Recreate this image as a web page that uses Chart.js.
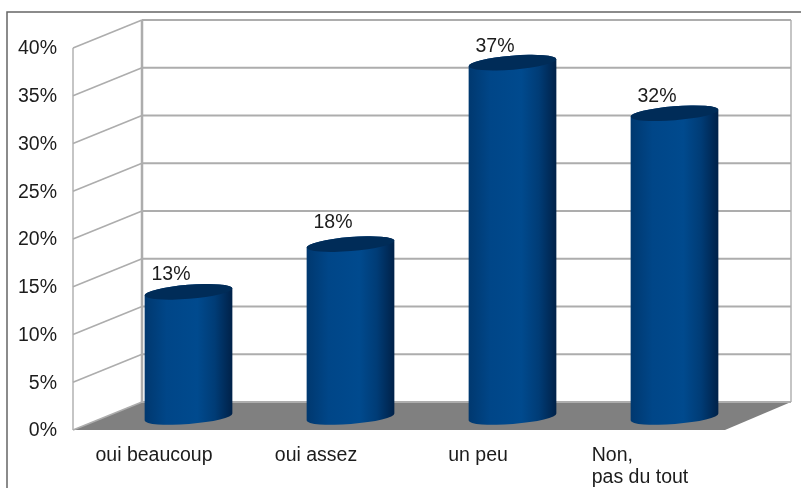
<!DOCTYPE html>
<html lang="fr">
<head>
<meta charset="UTF-8">
<title>Graphique</title>
<style>
  html, body { margin: 0; padding: 0; background: #fff; }
  canvas { display: block; }
</style>
</head>
<body>
<canvas id="myChart" width="801" height="488"></canvas>
<script src="https://cdn.jsdelivr.net/npm/chart.js@4/dist/chart.umd.min.js"></script>
<script>
var categories = [["oui beaucoup"], ["oui assez"], ["un peu"], ["Non,", "pas du tout"]];
var percentValues = [13, 18, 37, 31.7];
var yTickStep = 5;
var yMax = 40;

var FONT = '"Liberation Sans", Arial, sans-serif';
var FONT_SIZE = 19.5;
var TEXT = '#1c1c1c';
// 3d offset of the back wall from the front of the box
var DEPTH_X = 69, DEPTH_Y = 28;
// the value labels do not sit at one fixed distance above the bars
var labelLift = [17, 21, 16.5, 16.5];

var wallsPlugin = {
    id: 'walls',
    beforeDatasetsDraw: function (chart) {
        var ctx = chart.ctx, area = chart.chartArea, y = chart.scales.y;
        var backLeft = area.left + DEPTH_X;
        var backRight = area.right + DEPTH_X + 1;
        var backBottom = area.bottom - DEPTH_Y;

        ctx.save();
        // frame round the picture
        ctx.strokeStyle = '#666';
        ctx.lineWidth = 1.5;
        ctx.beginPath();
        ctx.moveTo(7, 488);
        ctx.lineTo(7, 12);
        ctx.lineTo(801, 12);
        ctx.stroke();

        // floor
        ctx.fillStyle = '#808080';
        ctx.beginPath();
        ctx.moveTo(area.left, area.bottom);
        ctx.lineTo(backLeft, backBottom);
        ctx.lineTo(backRight, backBottom);
        ctx.lineTo(backRight - DEPTH_X + 3, area.bottom);
        ctx.closePath();
        ctx.fill();

        ctx.strokeStyle = '#adadad';
        // grid lines: side wall then back wall
        y.ticks.forEach(function (tick) {
            var py = y.getPixelForValue(tick.value);
            ctx.lineWidth = 1.6;
            ctx.beginPath();
            ctx.moveTo(area.left, py);
            ctx.lineTo(backLeft, py - DEPTH_Y);
            ctx.stroke();
            ctx.lineWidth = 2;
            ctx.beginPath();
            ctx.moveTo(backLeft, py - DEPTH_Y);
            ctx.lineTo(backRight, py - DEPTH_Y);
            ctx.stroke();
        });

        ctx.lineWidth = 1.4;
        ctx.beginPath();
        ctx.moveTo(area.left, area.top);
        ctx.lineTo(area.left, area.bottom);
        ctx.moveTo(backRight, area.top - DEPTH_Y);
        ctx.lineTo(backRight, backBottom);
        ctx.stroke();
        ctx.lineWidth = 2.5;
        ctx.beginPath();
        ctx.moveTo(backLeft, area.top - DEPTH_Y);
        ctx.lineTo(backLeft, backBottom);
        ctx.stroke();
        ctx.restore();
    }
};

var cylinderPlugin = {
    id: 'cylinders',
    afterDatasetsDraw: function (chart) {
        var ctx = chart.ctx;
        var rx = 44, ry = 7, rot = -0.08;
        chart.getDatasetMeta(0).data.forEach(function (bar, i) {
            // cylinders stand half way back on the floor
            var cx = bar.x + DEPTH_X / 2;
            var top = bar.y - DEPTH_Y / 2;
            var base = bar.base - DEPTH_Y / 2 + 1;

            var grad = ctx.createLinearGradient(cx - rx, 0, cx + rx, 0);
            grad.addColorStop(0, '#00386f');
            grad.addColorStop(0.25, '#004688');
            grad.addColorStop(0.6, '#004a8e');
            grad.addColorStop(0.8, '#003c76');
            grad.addColorStop(1, '#002148');

            ctx.save();
            ctx.fillStyle = grad;
            ctx.beginPath();
            ctx.ellipse(cx, base, rx, ry, rot, Math.PI, 0, true);
            ctx.ellipse(cx, top, rx, ry, rot, 0, Math.PI, true);
            ctx.closePath();
            ctx.fill();

            ctx.fillStyle = '#002c58';
            ctx.beginPath();
            ctx.ellipse(cx, top, rx, ry, rot, 0, Math.PI * 2);
            ctx.fill();

            // value label
            ctx.fillStyle = TEXT;
            ctx.font = FONT_SIZE + 'px ' + FONT;
            ctx.textAlign = 'center';
            ctx.textBaseline = 'middle';
            ctx.fillText(Math.round(percentValues[i]) + '%', bar.x + 17, top - labelLift[i]);
            ctx.restore();
        });
    }
};

// category labels are left aligned inside their block, the axis can only centre them
var categoryLabelPlugin = {
    id: 'categoryLabels',
    afterDraw: function (chart) {
        var ctx = chart.ctx, x = chart.scales.x, area = chart.chartArea;
        ctx.save();
        ctx.fillStyle = TEXT;
        ctx.font = FONT_SIZE + 'px ' + FONT;
        ctx.textBaseline = 'middle';
        ctx.textAlign = 'left';
        categories.forEach(function (lines, i) {
            var w = Math.max.apply(null, lines.map(function (l) { return ctx.measureText(l).width; }));
            var left = x.getPixelForTick(i) - w / 2;
            lines.forEach(function (line, n) {
                ctx.fillText(line, left, area.bottom + 26 + n * 22);
            });
        });
        ctx.restore();
    }
};

new Chart(document.getElementById('myChart'), {
    type: 'bar',
    data: {
        labels: categories,
        datasets: [{ data: percentValues, backgroundColor: 'transparent', borderWidth: 0 }]
    },
    plugins: [wallsPlugin, cylinderPlugin, categoryLabelPlugin],
    options: {
        responsive: false,
        animation: false,
        layout: { padding: { top: 48, right: 80, bottom: 0, left: 0 } },
        plugins: { legend: { display: false }, tooltip: { enabled: false } },
        scales: {
            x: {
                grid: { display: false },
                border: { display: false },
                ticks: { display: false },
                afterFit: function (scale) { scale.height = 58; }
            },
            y: {
                min: 0,
                max: yMax,
                grid: { display: false, drawTicks: false },
                border: { display: false },
                ticks: {
                    stepSize: yTickStep,
                    padding: 16,
                    labelOffset: 1,
                    color: TEXT,
                    font: { family: FONT, size: FONT_SIZE },
                    callback: function (v) { return v + '%'; }
                },
                afterFit: function (scale) { scale.width = 73; }
            }
        }
    }
});
</script>
</body>
</html>
